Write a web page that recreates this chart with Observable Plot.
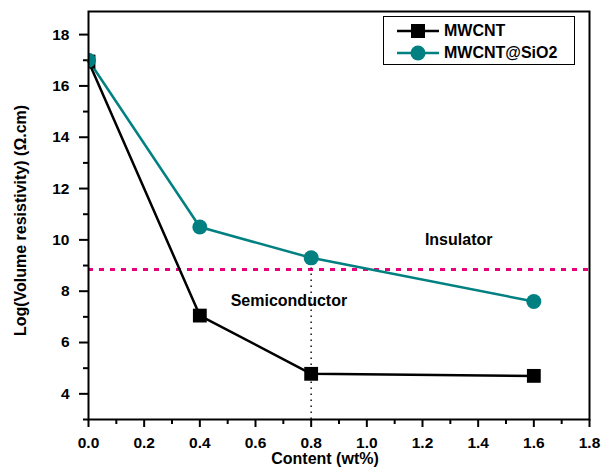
<!DOCTYPE html>
<html>
<head>
<meta charset="utf-8">
<script src="https://cdn.jsdelivr.net/npm/d3@7"></script>
<script src="https://cdn.jsdelivr.net/npm/@observablehq/plot@0.6"></script>
<style>
  body { margin: 0; background: #fff; }
  #chart { position: relative; width: 603px; height: 468px; font-family: "Liberation Sans", Arial, sans-serif; }
  #chart svg [aria-label$="tick label"] { font-size: 15.5px; font-weight: bold; }
  .legend { position: absolute; left: 383px; top: 16px; width: 190px; height: 47px; border: 1px solid #000; background: #fff; }
  .legend .row { position: absolute; left: 0; height: 20px; display: flex; align-items: center; font-weight: bold; font-size: 16px; color: #000; }
  .legend svg { margin-left: 13px; margin-right: 5px; }
</style>
</head>
<body>
<div id="chart"></div>
<script>
// Content of filler (wt%)
const content = [0, 0.4, 0.8, 1.6];
// Log(volume resistivity) for each composite
const mwcnt = [16.95, 7.05, 4.78, 4.7];
const mwcntSiO2 = [17.0, 10.5, 9.3, 7.6];
// Insulator / semiconductor boundary
const threshold = 8.85;
const markerContent = 0.8;

const seriesNames = ["MWCNT", "MWCNT@SiO2"];
const seriesColors = ["#000000", "#008080"];
const xTicks = [0, 0.2, 0.4, 0.6, 0.8, 1.0, 1.2, 1.4, 1.6, 1.8];
const xMinor = [0.1, 0.3, 0.5, 0.7, 0.9, 1.1, 1.3, 1.5, 1.7];
const yTicks = [4, 6, 8, 10, 12, 14, 16, 18];
const yMinor = [3, 5, 7, 9, 11, 13, 15, 17];
const regionLabels = [
  {x: 1.33, y: 10.0, text: "Insulator"},
  {x: 0.72, y: 7.63, text: "Semiconductor"}
];

const black = content.map((x, i) => ({x, y: mwcnt[i]}));
const teal = content.map((x, i) => ({x, y: mwcntSiO2[i]}));
const tealAtMarker = teal.find(d => d.x === markerContent);

const plot = Plot.plot({
  width: 603,
  height: 468,
  marginLeft: 88,
  marginRight: 14,
  marginTop: 11,
  marginBottom: 49,
  style: {fontFamily: "'Liberation Sans', Arial, sans-serif", fontWeight: "bold", fontSize: "16px", color: "#000", background: "#fff"},
  x: {domain: [0, 1.8]},
  y: {domain: [3, 18.9]},
  marks: [
    Plot.axisX({ticks: xTicks, tickFormat: d3.format(".1f"), tickSize: 8, tickPadding: 9, strokeWidth: 2, label: null}),
    Plot.axisX({ticks: xMinor, tickSize: 5, strokeWidth: 2, text: null, label: null}),
    Plot.axisY({ticks: yTicks, tickSize: 9, tickPadding: 10, strokeWidth: 2, label: null}),
    Plot.axisY({ticks: yMinor, tickSize: 5, strokeWidth: 2, text: null, label: null}),
    Plot.ruleY([threshold], {stroke: "#e6007e", strokeWidth: 3, strokeDasharray: "5,6"}),
    Plot.ruleX([tealAtMarker], {x: "x", y1: 3, y2: "y", stroke: "#222", strokeWidth: 1.6, strokeDasharray: "1.6,4.4"}),
    Plot.line(black, {x: "x", y: "y", stroke: seriesColors[0], strokeWidth: 2.5}),
    Plot.line(teal, {x: "x", y: "y", stroke: seriesColors[1], strokeWidth: 2.5}),
    Plot.dot(black, {x: "x", y: "y", symbol: "square", r: 7.8, fill: seriesColors[0], clip: true}),
    Plot.dot(teal, {x: "x", y: "y", symbol: "circle", r: 7.5, fill: seriesColors[1], clip: true}),
    Plot.text(regionLabels, {x: "x", y: "y", text: "text", fontSize: 16, fontWeight: "bold", fill: "#000"}),
    Plot.frame({stroke: "#000", strokeWidth: 2}),
    Plot.text(["Content (wt%)"], {frameAnchor: "bottom", textAnchor: "middle", dy: 44, dx: -14, fontSize: 16, fontWeight: "bold", fill: "#000"}),
    Plot.text(["Log(Volume resistivity) (Ω.cm)"], {frameAnchor: "left", textAnchor: "middle", dx: -68, dy: 5, rotate: -90, fontSize: 16, fontWeight: "bold", fill: "#000"})
  ]
});

const chart = document.getElementById("chart");
chart.appendChild(plot);

// Legend box
const legend = document.createElement("div");
legend.className = "legend";
seriesNames.forEach((name, i) => {
  const row = document.createElement("div");
  row.className = "row";
  row.style.top = (4 + i * 22) + "px";
  const sym = i === 0
    ? `<rect x="14" y="3" width="14" height="14" fill="${seriesColors[i]}"/>`
    : `<circle cx="21" cy="10" r="7.5" fill="${seriesColors[i]}"/>`;
  row.innerHTML = `<svg width="42" height="20"><line x1="0" y1="10" x2="42" y2="10" stroke="${seriesColors[i]}" stroke-width="2.5"/>${sym}</svg><span>${name}</span>`;
  legend.appendChild(row);
});
chart.appendChild(legend);
</script>
</body>
</html>
